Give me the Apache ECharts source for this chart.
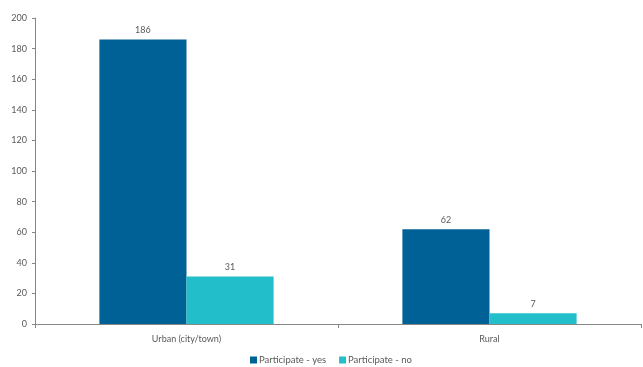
<!DOCTYPE html>
<html>
<head>
<meta charset="utf-8">
<script src="https://cdn.jsdelivr.net/npm/echarts@6/dist/echarts.min.js"></script>
<style>
  html, body { margin: 0; padding: 0; background: #fff; }
  #chart { width: 643px; height: 367px; }
</style>
</head>
<body>
<div id="chart"></div>
<script>
// Participation counts by area type
const categories = ['Urban (city/town)', 'Rural'];
const participateYes = [186, 62];
const participateNo = [31, 7];
const seriesNames = ['Participate - yes', 'Participate - no'];

const FONT = 'Lato, "Liberation Sans", sans-serif';
const TEXT = '#595959';
const AXIS = '#868686';

const chart = echarts.init(document.getElementById('chart'), null, { renderer: 'canvas' });

const labelStyle = {
  show: true,
  position: 'top',
  distance: 5,
  color: TEXT,
  fontFamily: FONT,
  fontSize: 9
};

chart.setOption({
  animation: false,
  grid: { left: 35, right: 2, top: 18, bottom: 43 },
  legend: {
    top: 355,
    left: 250,
    itemWidth: 7,
    itemHeight: 7,
    itemGap: 13,
    icon: 'rect',
    padding: 0,
    textStyle: { color: TEXT, fontFamily: FONT, fontSize: 9.5, padding: [0, 0, 0, -3] },
    data: seriesNames
  },
  xAxis: {
    type: 'category',
    data: categories,
    axisLine: { lineStyle: { color: AXIS, width: 1 } },
    axisTick: { show: true, length: 4, lineStyle: { color: AXIS } },
    axisLabel: { color: TEXT, fontFamily: FONT, fontSize: 9, margin: 11 }
  },
  yAxis: {
    type: 'value',
    min: 0,
    max: 200,
    interval: 20,
    axisLine: { show: true, lineStyle: { color: AXIS, width: 1 } },
    axisTick: { show: true, length: 3, lineStyle: { color: AXIS } },
    splitLine: { show: false },
    axisLabel: { color: TEXT, fontFamily: FONT, fontSize: 9, margin: 8 }
  },
  series: [
    {
      name: seriesNames[0],
      type: 'bar',
      data: participateYes,
      barGap: '0%',
      barCategoryGap: '42.5%',
      itemStyle: { color: '#006196' },
      label: labelStyle
    },
    {
      name: seriesNames[1],
      type: 'bar',
      data: participateNo,
      itemStyle: { color: '#22BFCA' },
      label: labelStyle
    }
  ]
});
</script>
</body>
</html>
